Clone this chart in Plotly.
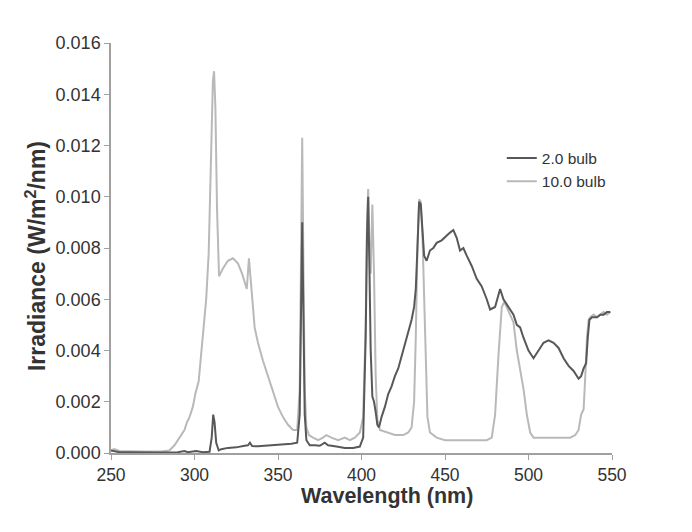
import plotly.graph_objects as go

# 2.0 bulb (dark trace)
wl_2 = [250, 255, 260, 270, 280, 290, 294, 296, 300, 301, 305, 309, 310.3, 311.2, 312, 313,
        314.5, 316, 320, 325, 330, 332, 333.2, 334.5, 338, 343, 348, 353, 358, 361.5, 363,
        363.8, 364.5, 365.2, 366, 367, 369, 372, 375, 378, 380, 385, 390, 395, 399, 401,
        402.5, 403.3, 404, 404.8, 405.5, 406.5, 407.5, 408.5, 409.5, 410.5, 412, 414, 416,
        418, 420, 422, 424, 426, 428, 430, 431.5, 432.5, 433.5, 434.5, 435.5, 436.5, 437.5,
        439, 441, 443, 445, 448, 451, 453, 455, 457, 459, 461, 463, 466, 469, 472, 475, 477,
        480, 483, 485, 487, 489, 491, 493, 495, 497, 500, 503, 506, 509, 512, 515, 518, 521,
        524, 527, 530, 531.5, 533, 534.5, 535.5, 536.5, 538, 541, 543, 545, 547, 549]
irr_2 = [0.0001, 0.00003, 0.00003, 0.00002, 0.00002, 0.00003, 0.00008, 0.00003, 0.00005,
         0.00008, 0.00003, 0.00005, 0.0006, 0.0015, 0.0012, 0.0004, 0.0001, 0.00015, 0.0002,
         0.00022, 0.00028, 0.0003, 0.0004, 0.00027, 0.00026, 0.00028, 0.0003, 0.00033,
         0.00036, 0.0004, 0.0015, 0.0055, 0.0090, 0.0055, 0.0015, 0.0005, 0.0003, 0.0003,
         0.00028, 0.0004, 0.0003, 0.00025, 0.0002, 0.0002, 0.00025, 0.0006, 0.0045, 0.0085,
         0.0100, 0.0070, 0.0040, 0.0022, 0.0020, 0.0016, 0.0011, 0.0010, 0.0014, 0.0018,
         0.0023, 0.0026, 0.0030, 0.0033, 0.0038, 0.0042, 0.0047, 0.0052, 0.0057, 0.0064,
         0.0080, 0.0098, 0.0097, 0.0085, 0.0077, 0.0075, 0.0079, 0.0080, 0.0082, 0.0083,
         0.0085, 0.0086, 0.0087, 0.0084, 0.0079, 0.0080, 0.0077, 0.0073, 0.0068, 0.0065,
         0.0060, 0.0056, 0.0057, 0.0064, 0.0060, 0.0058, 0.0056, 0.0054, 0.0050, 0.0049,
         0.0045, 0.0040, 0.0037, 0.0040, 0.0043, 0.0044, 0.0043, 0.0041, 0.0037, 0.0034,
         0.0032, 0.0029, 0.0030, 0.0033, 0.0035, 0.0045, 0.0052, 0.0053, 0.0053, 0.0054,
         0.0054, 0.0055, 0.0055]

# 10.0 bulb (light trace)
wl_10 = [250, 252, 255, 260, 270, 280, 285, 288, 290, 292, 294, 295.5, 297, 299, 300.5,
         302.5, 304, 305.5, 307, 308.5, 309.8, 311, 311.7, 312.5, 313.5, 314.7, 317, 320,
         323, 326, 328.5, 330.5, 331.3, 332.6, 333.5, 334.5, 336, 338, 341, 344, 347, 350,
         353, 356, 359, 361.5, 363, 363.8, 364.5, 365.2, 366, 367, 368.5, 371, 374, 377,
         379, 382, 386, 390, 393, 396, 399, 401, 402.5, 403.3, 404, 404.8, 405.5, 406.5,
         407.5, 408.5, 409.5, 411, 415, 420, 425, 428, 430, 431.5, 432.5, 433.5, 434.5,
         435.5, 436.5, 437.5, 438.5, 439.5, 441, 445, 450, 455, 460, 465, 470, 475, 478,
         480, 482, 484, 485.5, 487, 489, 491, 493, 495, 497, 499, 501, 503, 508, 515, 520,
         525, 528, 530, 531.5, 533, 534, 535, 536, 537, 539, 541, 543, 545, 547, 549]
irr_10 = [0.0001, 0.00015, 0.00008, 0.00007, 0.00006, 0.00006, 0.0001, 0.0003, 0.0005,
          0.0007, 0.0009, 0.0012, 0.0014, 0.0018, 0.0023, 0.0028, 0.0038, 0.0048, 0.0060,
          0.0078, 0.0112, 0.0145, 0.0149, 0.0135, 0.0095, 0.0069, 0.0072, 0.0075, 0.0076,
          0.0074, 0.0070, 0.0066, 0.0064, 0.0076, 0.0070, 0.0061, 0.0049, 0.0043, 0.0036,
          0.0030, 0.0024, 0.0018, 0.0014, 0.0011, 0.0009, 0.0009, 0.0025, 0.0070, 0.0123,
          0.0075, 0.0025, 0.0010, 0.0007, 0.0006, 0.0005, 0.0006, 0.0007, 0.0006, 0.0005,
          0.0006, 0.0005, 0.0006, 0.0008, 0.0014, 0.0050, 0.0090, 0.0103, 0.0080, 0.0070,
          0.0097, 0.0070, 0.0030, 0.0013, 0.0009, 0.0008, 0.0007, 0.0007, 0.0008, 0.0010,
          0.0020, 0.0045, 0.0080, 0.0099, 0.0098, 0.0085, 0.0060, 0.0030, 0.0014, 0.0008,
          0.0006, 0.0005, 0.0005, 0.0005, 0.0005, 0.0005, 0.0005, 0.0006, 0.0015, 0.0038,
          0.0057, 0.0059, 0.0057, 0.0054, 0.0051, 0.0040, 0.0033, 0.0025, 0.0015, 0.0008,
          0.0006, 0.0006, 0.0006, 0.0006, 0.0006, 0.0007, 0.0009, 0.0015, 0.0017, 0.0030,
          0.0045, 0.0052, 0.0053, 0.0054, 0.0053, 0.0054, 0.0055, 0.0054, 0.0055]

font = "Liberation Sans, Arial, sans-serif"

fig = go.Figure()

# light one first so the dark trace sits on top, legend order fixed with legendrank
fig.add_trace(go.Scatter(x=wl_10, y=irr_10, mode="lines", name="10.0 bulb",
                         line=dict(color="#b9b9b9", width=2), legendrank=2))
fig.add_trace(go.Scatter(x=wl_2, y=irr_2, mode="lines", name="2.0 bulb",
                         line=dict(color="#585858", width=2), legendrank=1))

fig.update_xaxes(range=[250, 550], dtick=50, showline=True, linecolor="#a0a0a0",
                 linewidth=1.5, ticks="outside", ticklen=5, tickcolor="#a0a0a0",
                 showgrid=False, zeroline=False,
                 tickfont=dict(family=font, size=17.5, color="#333333"))
fig.update_yaxes(range=[0, 0.016], dtick=0.002, tickformat=".3f", showline=True,
                 linecolor="#a0a0a0", linewidth=1.5, ticks="outside", ticklen=5,
                 tickcolor="#a0a0a0", showgrid=False, zeroline=False,
                 tickfont=dict(family=font, size=18, color="#333333"))

# axis titles as annotations so they can sit where the original has them
fig.add_annotation(text="<b>Wavelength (nm)</b>", xref="paper", yref="paper",
                   x=0.55, y=-0.104, xanchor="center", yanchor="middle",
                   showarrow=False, font=dict(family=font, size=21.5, color="#333333"))
fig.add_annotation(text="<b>Irradiance (W/m<sup>2</sup>/nm)</b>", xref="paper", yref="paper",
                   x=-0.15, y=0.48, xanchor="center", yanchor="middle", textangle=-90,
                   showarrow=False, font=dict(family=font, size=23, color="#333333"))

# page body has an 8px margin, so left/top margins are trimmed by 8
fig.update_layout(
    width=692, height=532,
    margin=dict(l=103, r=88, t=35, b=87),
    plot_bgcolor="white", paper_bgcolor="white",
    showlegend=True,
    legend=dict(x=0.78, y=0.76, xanchor="left", yanchor="top",
                bgcolor="rgba(0,0,0,0)", itemwidth=30, tracegroupgap=0,
                font=dict(family=font, size=15.5, color="#333333")),
)

fig.write_html("out.html")
